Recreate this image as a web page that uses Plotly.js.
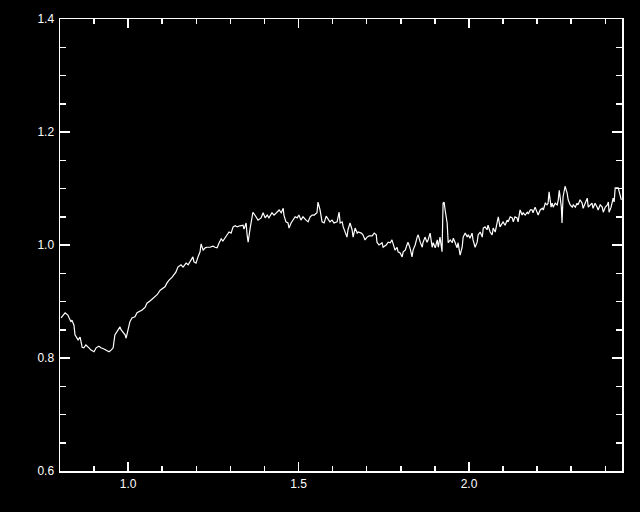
<!DOCTYPE html>
<html>
<head>
<meta charset="utf-8">
<script src="https://cdn.plot.ly/plotly-3.0.1.min.js"></script>
<style>html,body{margin:0;padding:0;background:#000;}#chart{width:640px;height:512px;}</style>
</head>
<body>
<div id="chart"></div>
<script>
const wavelength = [
0.803,0.815,0.823,0.832,0.835,0.841,0.844,0.853,0.859,0.865,0.870,0.876,0.885,0.891,0.900,0.906,0.914,0.920,0.929,0.935,
0.944,0.950,0.956,0.961,0.967,0.976,0.979,0.985,0.991,0.994,1.000,1.005,1.011,1.020,1.026,1.035,1.041,1.050,1.055,1.064,
1.073,1.085,1.094,1.102,1.108,1.114,1.120,1.129,1.135,1.140,1.146,1.155,1.161,1.170,1.176,1.185,1.190,1.193,1.199,1.205,
1.211,1.214,1.220,1.226,1.231,1.240,1.249,1.255,1.261,1.267,1.273,1.278,1.284,1.290,1.296,1.302,1.308,1.314,1.320,1.328,
1.337,1.340,1.346,
1.349,1.352,1.358,1.364,1.366,1.375,1.381,1.390,1.396,1.402,1.408,1.413,1.422,1.428,1.437,1.443,1.449,1.455,1.457,1.463,
1.469,1.472,1.478,1.484,1.490,1.496,1.501,1.507,1.513,1.522,1.528,1.534,1.540,1.546,1.554,1.557,1.563,1.569,1.575,1.581,
1.587,1.592,1.598,1.604,1.613,1.619,
1.622,1.628,1.631,1.637,1.642,1.645,1.651,1.657,1.660,1.666,1.672,1.675,1.684,1.689,1.695,1.701,1.707,1.716,1.722,1.728,
1.730,1.736,1.745,1.748,1.757,1.763,1.769,1.774,1.777,1.783,1.789,1.792,1.798,1.804,1.807,1.813,1.818,1.821,1.827,1.833,
1.836,1.842,1.848,1.851,1.857,1.863,1.865,1.871,1.877,1.880,1.886,1.892,1.895,
1.901,1.907,1.910,1.915,1.921,1.924,1.927,1.930,1.936,1.939,1.945,1.951,1.954,1.959,1.965,1.968,1.974,1.980,1.983,1.989,
1.995,1.998,2.003,2.009,2.012,2.018,2.024,2.027,2.033,2.039,2.042,2.047,2.053,2.056,2.062,2.068,2.071,2.077,2.083,2.086,
2.091,2.097,2.100,2.106,2.112,2.115,2.121,2.127,2.130,2.135,2.141,2.144,2.150,2.156,2.159,2.165,2.171,2.174,2.180,
2.185,2.188,2.194,2.200,2.203,2.209,2.215,2.218,2.224,2.229,2.232,2.235,2.241,2.244,2.247,2.253,2.259,2.262,2.265,2.271,
2.273,2.276,2.282,2.288,2.291,2.297,2.303,2.306,2.312,2.317,2.320,2.326,2.332,2.335,2.341,2.347,2.350,2.356,2.361,2.364,
2.370,2.376,2.379,2.385,2.391,2.394,2.400,2.406,2.409,2.411,2.417,2.423,2.426,2.429,2.438,2.441,2.447
];
const flux = [
0.871,0.880,0.876,0.864,0.867,0.858,0.841,0.832,0.837,0.819,0.818,0.823,0.818,0.814,0.811,0.818,0.821,0.818,0.816,0.814,
0.811,0.814,0.818,0.841,0.846,0.855,0.850,0.846,0.841,0.835,0.853,0.864,0.871,0.873,0.880,0.883,0.885,0.890,0.897,0.901,
0.906,0.912,0.920,0.924,0.926,0.933,0.938,0.943,0.947,0.952,0.961,0.965,0.961,0.968,0.965,0.973,0.979,0.970,0.968,0.979,
0.988,1.002,0.991,0.995,0.996,0.996,0.998,0.996,0.995,1.004,1.011,1.007,1.012,1.018,1.023,1.021,1.032,1.034,1.032,1.034,
1.035,1.028,1.039,
1.018,1.005,1.030,1.053,1.058,1.050,1.044,1.048,1.057,1.048,1.053,1.048,1.057,1.053,1.058,1.062,1.057,1.065,1.053,1.041,
1.039,1.030,1.039,1.044,1.050,1.048,1.053,1.044,1.050,1.044,1.041,1.050,1.053,1.053,1.057,1.076,1.062,1.041,1.039,1.051,
1.044,1.041,1.044,1.039,1.041,1.058,
1.039,1.041,1.032,1.021,1.014,1.027,1.039,1.027,1.014,1.030,1.021,1.023,1.021,1.018,1.009,1.014,1.016,1.016,1.021,1.018,
1.005,1.000,1.004,0.996,1.000,1.005,1.004,1.009,1.004,0.991,0.996,0.988,0.986,0.979,0.988,0.991,1.000,1.005,0.995,0.979,
0.991,1.000,1.014,1.018,1.005,0.996,1.004,1.014,1.005,1.009,1.021,0.996,1.004,
0.995,1.009,0.996,1.014,0.988,1.074,1.076,1.062,1.039,1.004,1.009,1.004,1.012,1.005,0.995,1.004,0.982,0.996,1.014,1.021,
1.014,1.018,1.012,1.021,1.009,0.996,1.005,1.018,1.023,1.014,1.030,1.032,1.027,1.035,1.023,1.018,1.030,1.023,1.039,1.050,
1.032,1.039,1.041,1.035,1.044,1.041,1.050,1.048,1.041,1.050,1.048,1.041,1.062,1.053,1.057,1.053,1.058,1.055,1.062,
1.062,1.057,1.067,1.058,1.053,1.062,1.065,1.062,1.074,1.071,1.074,1.094,1.067,1.074,1.067,1.074,1.071,1.080,1.097,1.067,
1.039,1.085,1.104,1.092,1.080,1.071,1.067,1.071,1.067,1.074,1.071,1.080,1.074,1.065,1.074,1.083,1.067,1.071,1.074,1.065,
1.074,1.067,1.062,1.071,1.067,1.058,1.067,1.071,1.076,1.058,1.067,1.083,1.076,1.101,1.101,1.094,1.080
];
const xTickVals = [1.0, 1.5, 2.0];
const xTickText = ["1.0", "1.5", "2.0"];
const yTickVals = [0.6, 0.8, 1.0, 1.2, 1.4];
const yTickText = ["0.6", "0.8", "1.0", "1.2", "1.4"];

const tickFont = {family: "Liberation Sans, DejaVu Sans, sans-serif", size: 12, color: "#ffffff"};
const trace = {
  x: wavelength, y: flux, type: "scatter", mode: "lines",
  line: {color: "#ffffff", width: 1.2}, hoverinfo: "skip"
};
const layout = {
  width: 640, height: 512,
  paper_bgcolor: "#000000", plot_bgcolor: "#000000",
  margin: {l: 60, r: 18, t: 19, b: 41, pad: 0},
  showlegend: false,
  xaxis: {
    range: [0.8, 2.449], showgrid: false, zeroline: false,
    showline: true, linecolor: "#ffffff", linewidth: 1.5, mirror: "ticks",
    ticks: "inside", ticklen: 9, tickwidth: 1.5, tickcolor: "#ffffff",
    tickvals: xTickVals, ticktext: xTickText, tickfont: tickFont, ticklabelstandoff: 1,
    minor: {dtick: 0.1, tick0: 0.8, ticks: "inside", ticklen: 5, tickwidth: 1.5, tickcolor: "#ffffff", showgrid: false}
  },
  yaxis: {
    range: [0.6, 1.4], showgrid: false, zeroline: false,
    showline: true, linecolor: "#ffffff", linewidth: 1.5, mirror: "ticks",
    ticks: "inside", ticklen: 10, tickwidth: 1.5, tickcolor: "#ffffff",
    tickvals: yTickVals, ticktext: yTickText, tickfont: tickFont, ticklabelstandoff: 2,
    minor: {dtick: 0.05, tick0: 0.6, ticks: "inside", ticklen: 6, tickwidth: 1.5, tickcolor: "#ffffff", showgrid: false}
  }
};
Plotly.newPlot("chart", [trace], layout, {staticPlot: true, displayModeBar: false});
</script>
</body>
</html>
